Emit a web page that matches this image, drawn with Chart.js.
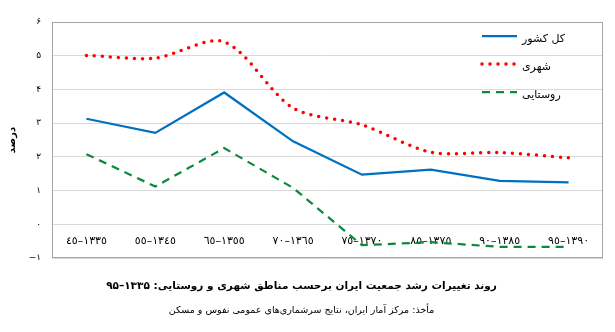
<!DOCTYPE html>
<html lang="fa">
<head>
<meta charset="utf-8">
<script src="https://cdn.jsdelivr.net/npm/chart.js@4"></script>
<style>
  html, body { margin: 0; padding: 0; background: #ffffff; }
  #wrap { width: 615px; height: 332px; }
</style>
</head>
<body>
<div id="wrap"><canvas id="c" width="615" height="332"></canvas></div>
<script>
// Periods between censuses (solar hijri years)
const periods = ['١٣٣٥–٤٥', '١٣٤٥–٥٥', '١٣٥٥–٦٥', '١٣٦٥–٧٠', '١٣٧٠–٧٥', '١٣٧٥–٨٥', '١٣٨٥–٩٠', '١٣٩٠–٩٥'];

// Average annual growth rate, percent
const totalGrowth = [3.13, 2.71, 3.91, 2.46, 1.47, 1.62, 1.29, 1.24];
const urbanGrowth = [5.01, 4.93, 5.41, 3.45, 2.95, 2.14, 2.13, 1.97];
const ruralGrowth = [2.08, 1.12, 2.26, 1.08, -0.62, -0.53, -0.67, -0.67];

const seriesNames = ['کل کشور', 'شهری', 'روستایی'];

// Y axis ticks and their Persian labels
const yTickValues = [-1, 0, 1, 2, 3, 4, 5, 6];
const yTickLabels = ['−۱', '۰', '۱', '۲', '۳', '۴', '۵', '۶'];

const yAxisTitle = 'درصد';
const chartTitle = 'روند تغییرات رشد جمعیت ایران برحسب مناطق شهری و روستایی: ۱۳۳۵–۹۵';
const sourceNote = 'مأخذ: مرکز آمار ایران، نتایج سرشماری‌های عمومی نفوس و مسکن';

const FONT = '"DejaVu Sans", "Noto Sans", sans-serif';

// Frame around the plot area
const framePlugin = {
  id: 'frame',
  beforeDatasetsDraw(chart) {
    const { ctx, chartArea: a } = chart;
    ctx.save();
    ctx.strokeStyle = '#a6a6a6';
    ctx.lineWidth = 1;
    ctx.strokeRect(Math.round(a.left) + 0.5, Math.round(a.top) + 0.5,
                   Math.round(a.right - a.left) - 1, Math.round(a.bottom - a.top) - 1);
    ctx.restore();
  }
};

// Legend drawn inside the plot, top-right, one row per series
const insideLegend = {
  id: 'insideLegend',
  afterDatasetsDraw(chart) {
    const { ctx, chartArea: a } = chart;
    const x1 = a.right - 86, x0 = x1 - 35;
    ctx.save();
    chart.data.datasets.forEach((ds, i) => {
      const y = a.top + 14 + i * 28;
      ctx.beginPath();
      ctx.strokeStyle = ds.borderColor;
      ctx.lineWidth = ds.borderWidth;
      ctx.lineCap = ds.borderCapStyle || 'butt';
      ctx.setLineDash(ds.borderDash || []);
      ctx.moveTo(x0, y);
      ctx.lineTo(x1, y);
      ctx.stroke();
      ctx.setLineDash([]);
      ctx.fillStyle = '#000';
      ctx.font = '11px ' + FONT;
      ctx.textAlign = 'left';
      ctx.textBaseline = 'middle';
      ctx.fillText(ds.label, x1 + 5, y + 3);
    });
    ctx.restore();
  }
};

new Chart(document.getElementById('c'), {
  type: 'line',
  data: {
    labels: periods,
    datasets: [
      {
        label: seriesNames[0],
        data: totalGrowth,
        borderColor: '#0070c0',
        borderWidth: 2.25,
        pointRadius: 0,
        tension: 0,
        fill: false
      },
      {
        label: seriesNames[1],
        data: urbanGrowth,
        borderColor: '#ff0000',
        borderWidth: 3.5,
        borderDash: [0, 8],
        borderCapStyle: 'round',
        pointRadius: 0,
        tension: 0.3,
        fill: false
      },
      {
        label: seriesNames[2],
        data: ruralGrowth,
        borderColor: '#0b8a3e',
        borderWidth: 2.25,
        borderDash: [8, 6],
        pointRadius: 0,
        tension: 0,
        fill: false
      }
    ]
  },
  options: {
    responsive: false,
    animation: false,
    devicePixelRatio: 1,
    layout: { padding: { left: 0, right: 12, top: 22, bottom: 8 } },
    plugins: {
      legend: { display: false },
      tooltip: { enabled: false },
      title: {
        display: true,
        position: 'bottom',
        weight: 1000,
        text: chartTitle,
        color: '#000',
        font: { family: FONT, size: 10.5, weight: 'bold' },
        padding: { top: 22, bottom: 6 }
      },
      subtitle: {
        display: true,
        position: 'bottom',
        weight: 2000,
        text: sourceNote,
        color: '#000',
        font: { family: FONT, size: 9.5, weight: 'normal' },
        padding: { top: 6, bottom: 8 }
      }
    },
    scales: {
      x: {
        type: 'category',
        offset: true,
        position: { y: -0.3 },
        grid: { display: false, drawTicks: false, offset: true },
        border: { display: false },
        ticks: {
          color: '#000',
          font: { family: FONT, size: 11 },
          padding: 0,
          maxRotation: 0,
          autoSkip: false
        }
      },
      y: {
        min: -1,
        max: 6,
        afterFit(scale) { scale.width = 52; },
        afterBuildTicks(scale) { scale.ticks = yTickValues.map(v => ({ value: v })); },
        grid: { color: '#d9d9d9', drawTicks: false },
        border: { display: false },
        title: {
          display: true,
          text: yAxisTitle,
          color: '#000',
          font: { family: FONT, size: 10, weight: 'bold' },
          padding: { top: 6, bottom: 0 }
        },
        ticks: {
          color: '#000',
          font: { family: FONT, size: 9 },
          padding: 11,
          callback: (v) => yTickLabels[yTickValues.indexOf(v)]
        }
      }
    }
  },
  plugins: [framePlugin, insideLegend]
});
</script>
</body>
</html>
